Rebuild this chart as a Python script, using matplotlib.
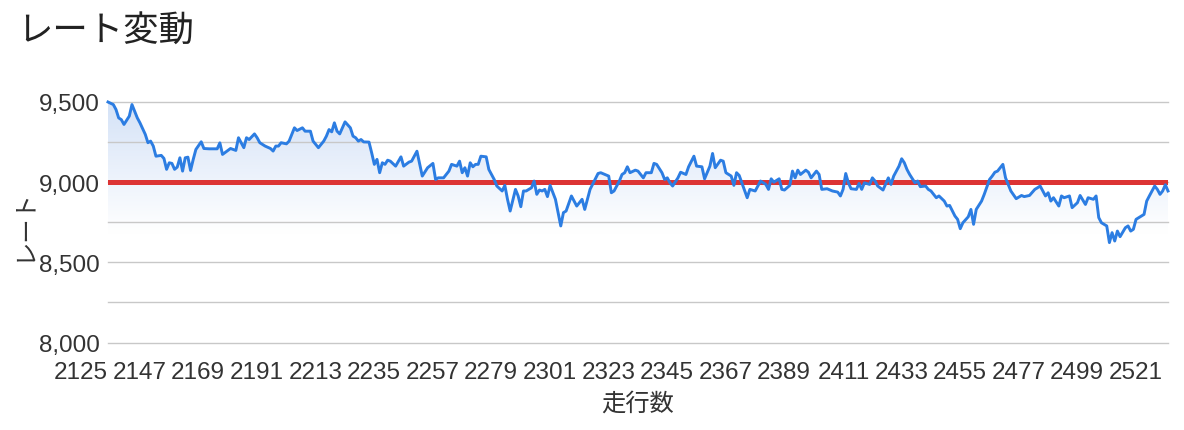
import numpy as np
import matplotlib
matplotlib.use("Agg")
import matplotlib.pyplot as plt
from matplotlib.patches import Polygon
from matplotlib.ticker import FuncFormatter

# ---------------- data ----------------
runs = [2125, 2127, 2128, 2129, 2130, 2131, 2133, 2134, 2136, 2137, 2139, 2140, 2141, 2142, 2143, 2145,
        2146, 2147, 2148, 2149, 2150, 2151, 2152, 2153, 2154, 2155, 2156, 2157, 2158, 2160, 2161, 2163,
        2166, 2167, 2168, 2170, 2171, 2173, 2174, 2176, 2177, 2178, 2180, 2181, 2182, 2184, 2186, 2187,
        2188, 2189, 2190, 2192, 2193, 2195, 2196, 2198, 2199, 2201, 2202, 2204, 2206, 2207, 2208, 2209,
        2210, 2211, 2212, 2214, 2216, 2217, 2218, 2219, 2220, 2221, 2223, 2224, 2225, 2226, 2227, 2228,
        2229, 2230, 2231, 2233, 2235, 2236, 2238, 2239, 2241, 2243, 2245, 2247, 2248, 2249, 2251, 2253,
        2254, 2256, 2257, 2258, 2259, 2260, 2261, 2262, 2263, 2264, 2265, 2267, 2268, 2270, 2271, 2273,
        2274, 2275, 2276, 2278, 2279, 2280, 2281, 2282, 2284, 2285, 2286, 2287, 2288, 2289, 2290, 2291,
        2293, 2295, 2296, 2297, 2299, 2301, 2303, 2304, 2306, 2309, 2310, 2313, 2314, 2315, 2317, 2318,
        2319, 2320, 2321, 2323, 2324, 2326, 2327, 2329, 2330, 2331, 2333, 2334, 2335, 2336, 2337, 2339,
        2340, 2342, 2343, 2345, 2346, 2348, 2349, 2351, 2352, 2353, 2355, 2356, 2357, 2359, 2360, 2361,
        2362, 2363, 2365, 2366, 2368, 2370, 2372, 2373, 2374, 2375, 2377, 2378, 2379, 2381, 2382, 2383,
        2384, 2385, 2387, 2388, 2389, 2391, 2392, 2393, 2395, 2397, 2399, 2400, 2401, 2402, 2403, 2404,
        2406, 2407, 2408, 2409, 2411, 2412, 2413, 2414, 2416, 2418, 2419, 2420, 2422, 2423, 2424, 2425,
        2426, 2428, 2429, 2430, 2432, 2433, 2434, 2436, 2437, 2439, 2440, 2441, 2443, 2444, 2445, 2446,
        2448, 2449, 2450, 2451, 2453, 2454, 2456, 2457, 2458, 2459, 2461, 2462, 2464, 2466, 2468, 2469,
        2471, 2473, 2474, 2475, 2477, 2478, 2479, 2480, 2482, 2483, 2484, 2486, 2487, 2489, 2490, 2492,
        2493, 2495, 2496, 2497, 2498, 2500, 2501, 2502, 2503, 2504, 2505, 2507, 2508, 2509, 2510, 2511,
        2513, 2514, 2515, 2516, 2518, 2519, 2520, 2521, 2522, 2523]

rates = [9500, 9484, 9453, 9401, 9390, 9360, 9412, 9484, 9401, 9370, 9298, 9246, 9256, 9225, 9162, 9167,
         9148, 9080, 9121, 9117, 9080, 9094, 9152, 9069, 9152, 9156, 9073, 9142, 9204, 9252, 9210, 9208,
         9208, 9245, 9173, 9198, 9210, 9198, 9277, 9215, 9277, 9266, 9301, 9277, 9246, 9225, 9210, 9194,
         9225, 9225, 9246, 9239, 9256, 9339, 9322, 9339, 9318, 9318, 9256, 9215, 9256, 9287, 9328, 9314,
         9370, 9318, 9301, 9376, 9339, 9287, 9277, 9256, 9266, 9251, 9250, 9183, 9111, 9142, 9059, 9121,
         9111, 9137, 9131, 9100, 9158, 9100, 9125, 9131, 9193, 9038, 9090, 9117, 9017, 9027, 9027, 9069,
         9111, 9100, 9131, 9059, 9090, 9038, 9121, 9096, 9111, 9111, 9162, 9158, 9079, 9017, 8976, 8945,
         8980, 8893, 8820, 8955, 8914, 8847, 8945, 8945, 8965, 9007, 8924, 8951, 8945, 8955, 8910, 8980,
         8893, 8727, 8810, 8820, 8914, 8851, 8893, 8830, 8955, 9054, 9059, 9038, 8934, 8945, 9007, 9048,
         9059, 9096, 9059, 9075, 9069, 9027, 9059, 9059, 9117, 9111, 9059, 9017, 9027, 8996, 8976, 9027,
         9062, 9048, 9096, 9162, 9100, 9096, 9021, 9100, 9179, 9090, 9137, 9131, 9059, 9038, 8980, 9059,
         9042, 8996, 8903, 8955, 8945, 9007, 8986, 8955, 9021, 9000, 9021, 8955, 8951, 8980, 9069, 9027,
         9075, 9048, 9075, 9062, 9027, 9069, 9048, 8955, 8959, 8945, 8938, 8914, 8955, 9054, 8996, 8959,
         8955, 8992, 8955, 8996, 8986, 9027, 9007, 8976, 8951, 9027, 8986, 9038, 9100, 9146, 9121, 9079,
         9048, 8996, 9007, 8972, 8976, 8955, 8945, 8903, 8914, 8882, 8851, 8855, 8789, 8768, 8710, 8747,
         8784, 8830, 8737, 8830, 8882, 8924, 9017, 9038, 9062, 9069, 9111, 9027, 8945, 8897, 8917, 8910,
         8917, 8955, 8965, 8976, 8914, 8934, 8882, 8903, 8851, 8914, 8903, 8914, 8841, 8872, 8917, 8861,
         8903, 8893, 8914, 8779, 8747, 8727, 8623, 8685, 8633, 8695, 8660, 8716, 8727, 8695, 8706, 8768,
         8789, 8799, 8882, 8914, 8976, 8955, 8924, 8945, 8984, 8945]

reference_rate = 9000
x_ticks = [2125, 2147, 2169, 2191, 2213, 2235, 2257, 2279, 2301, 2323,
           2345, 2367, 2389, 2411, 2433, 2455, 2477, 2499, 2521]
y_major = [8000, 8500, 9000, 9500]
y_grid = [8000, 8250, 8500, 8750, 9000, 9250, 9500]
title = "レート変動"
x_title = "走行数"
y_title = "レート"

# ---------------- style ----------------
FONT = ["Liberation Sans", "Noto Sans CJK JP", "DejaVu Sans"]
JP = ["Noto Sans CJK JP", "DejaVu Sans"]
plt.rcParams["font.family"] = FONT

W, H = 1184, 431
fig = plt.figure(figsize=(W / 100, H / 100), dpi=100)
left, right, top, bottom = 108, 1168, 103, 343.5
ax = fig.add_axes([left / W, 1 - bottom / H, (right - left) / W, (bottom - top) / H])

y0, y1 = 8000, 9500
ax.set_xlim(runs[0], runs[-1])
ax.set_ylim(y0, y1)

# gradient fill under the line
top_col = np.array([212, 226, 247]) / 255.0
fade_end = 8680
vals = np.linspace(y1, y0, 400)
t = np.clip((y1 - vals) / (y1 - fade_end), 0, 1)[:, None]
img = top_col[None, :] * (1 - t) + np.ones(3)[None, :] * t
img = img[:, None, :]
im = ax.imshow(img, extent=[runs[0], runs[-1], y0, y1], origin="upper",
               aspect="auto", zorder=1, interpolation="bilinear")
poly_pts = list(zip(runs, rates)) + [(runs[-1], y0), (runs[0], y0)]
poly = Polygon(poly_pts, closed=True, facecolor="none", edgecolor="none",
               transform=ax.transData)
ax.add_patch(poly)
im.set_clip_path(poly)

# gridlines (visible through the fill)
for g in y_grid:
    ax.axhline(g, color="#c8c8c8", lw=1.0, zorder=2, clip_on=False)

# reference line
ax.axhline(reference_rate, color="#dc3434", lw=3.6, zorder=3)

# rate line
ax.plot(runs, rates, color="#2c7de2", lw=2.1, zorder=4, clip_on=False,
        solid_joinstyle="round")

for s in ax.spines.values():
    s.set_visible(False)

ax.set_yticks(y_major)
ax.yaxis.set_major_formatter(FuncFormatter(lambda v, p: f"{int(v):,}"))
ax.set_xticks(x_ticks)
ax.set_xticklabels([str(v) for v in x_ticks], ha="right")
ax.tick_params(axis="both", length=0, labelsize=17.5, labelcolor="#333333")
ax.tick_params(axis="y", pad=6)
ax.tick_params(axis="x", pad=13)

fig.text(17 / W, 1 - 14 / H, title, family=JP, fontsize=25.5, color="#222222",
         ha="left", va="top")
fig.text(638 / W, 1 - 404 / H, x_title, family=JP, fontsize=17.5, color="#333333",
         ha="center", va="center")
fig.text(23 / W, 1 - 225 / H, y_title, family=JP, fontsize=17.5, color="#333333",
         ha="center", va="center", rotation=90)

fig.savefig("out.png", dpi=100)
